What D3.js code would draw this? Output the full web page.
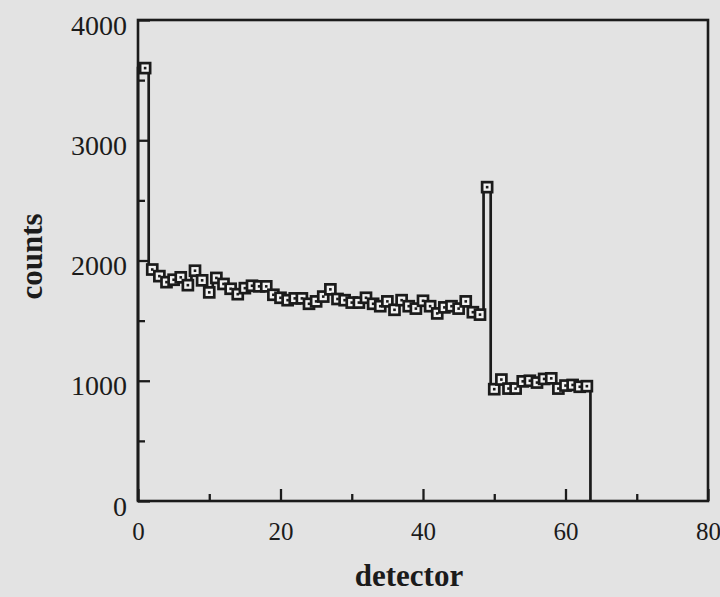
<!DOCTYPE html>
<html>
<head>
<meta charset="utf-8">
<script src="https://cdn.jsdelivr.net/npm/d3@7"></script>
<style>
  html, body { margin: 0; padding: 0; background: #e3e3e3; }
  svg { display: block; }
</style>
</head>
<body>
<svg id="chart" width="720" height="597"></svg>
<script>
// ---- data ----
const detectors = d3.range(1, 64);
const counts = [
  3600, 1925, 1870, 1820, 1840, 1860, 1795, 1915, 1835, 1735,
  1855, 1805, 1765, 1720, 1770, 1790, 1785, 1785, 1715, 1690,
  1670, 1685, 1685, 1640, 1660, 1700, 1760, 1680, 1670, 1650,
  1650, 1690, 1640, 1620, 1660, 1590, 1670, 1620, 1600, 1665,
  1620, 1560, 1610, 1620, 1600, 1660, 1570, 1550, 2610, 930,
  1010, 935, 935, 995, 1000, 985, 1015, 1020, 935, 960,
  965, 950, 955
];
const xTickValues = [0, 20, 40, 60, 80];
const xMinorTicks = [10, 30, 50, 70];
const yTickValues = [0, 1000, 2000, 3000, 4000];
const yMinorTicks = [500, 1500, 2500, 3500];
const xTitle = "detector";
const yTitle = "counts";

// ---- layout ----
const svg = d3.select("#chart");
const pLeft = 138, pRight = 708, pTop = 20, pBottom = 501;
const ink = "#1b1b1b";

const x = d3.scaleLinear().domain([0, 80]).range([pLeft, pRight]);
const y = d3.scaleLinear().domain([0, 4000]).range([pBottom, pTop]);

// frame
svg.append("rect")
  .attr("x", pLeft).attr("y", pTop)
  .attr("width", pRight - pLeft).attr("height", pBottom - pTop)
  .attr("fill", "none").attr("stroke", ink).attr("stroke-width", 2.6);

// x axis (ticks inward)
const xAxis = d3.axisBottom(x).tickValues(xTickValues).tickSize(-12).tickFormat(d3.format("d"));
const gx = svg.append("g").attr("transform", `translate(0,${pBottom})`).call(xAxis);
const gxm = svg.append("g").attr("transform", `translate(0,${pBottom})`)
  .call(d3.axisBottom(x).tickValues(xMinorTicks).tickSize(-7).tickFormat(""));

// y axis (ticks inward)
const yAxis = d3.axisLeft(y).tickValues(yTickValues).tickSize(-12).tickFormat(d3.format("d"));
const gy = svg.append("g").attr("transform", `translate(${pLeft},0)`).call(yAxis);
const gym = svg.append("g").attr("transform", `translate(${pLeft},0)`)
  .call(d3.axisLeft(y).tickValues(yMinorTicks).tickSize(-7).tickFormat(""));

[gx, gxm, gy, gym].forEach(g => {
  g.select(".domain").remove();
  g.selectAll(".tick line").attr("stroke", ink).attr("stroke-width", 2.3);
});
gx.selectAll(".tick text")
  .attr("font-family", "Liberation Serif, Times New Roman, serif")
  .attr("font-size", 25).attr("fill", ink).attr("dy", "1.45em");
gy.selectAll(".tick text")
  .attr("font-family", "Liberation Serif, Times New Roman, serif")
  .attr("font-size", 28).attr("fill", ink).attr("x", -11).attr("dy", "0.5em");

// step histogram line
const pts = [[0, 0]].concat(detectors.map((d, i) => [d + 0.5, counts[i]])).concat([[detectors[detectors.length - 1] + 0.5, 0]]);
const line = d3.line().x(d => x(d[0])).y(d => y(d[1])).curve(d3.curveStepBefore);
svg.append("path").datum(pts)
  .attr("d", line)
  .attr("fill", "none").attr("stroke", ink).attr("stroke-width", 2.7)
  .attr("stroke-linejoin", "miter");

// square markers
const mk = svg.append("g");
const s = 10;
mk.selectAll("rect.m").data(detectors).join("rect")
  .attr("class", "m")
  .attr("x", (d) => x(d) - s / 2).attr("y", (d, i) => y(counts[i]) - s / 2)
  .attr("width", s).attr("height", s)
  .attr("fill", "#f2f2f2").attr("stroke", ink).attr("stroke-width", 2.7);
mk.selectAll("rect.c").data(detectors).join("rect")
  .attr("class", "c")
  .attr("x", (d) => x(d) - 1.3).attr("y", (d, i) => y(counts[i]) - 1.3)
  .attr("width", 2.6).attr("height", 2.6)
  .attr("fill", ink);

// titles
svg.append("text")
  .attr("x", (pLeft + pRight) / 2 - 14).attr("y", 586)
  .attr("text-anchor", "middle")
  .attr("font-family", "Liberation Serif, Times New Roman, serif")
  .attr("font-weight", "bold").attr("font-size", 31).attr("fill", ink)
  .text(xTitle);
svg.append("text")
  .attr("transform", `translate(42,${(pTop + pBottom) / 2 - 4}) rotate(-90)`)
  .attr("text-anchor", "middle")
  .attr("font-family", "Liberation Serif, Times New Roman, serif")
  .attr("font-weight", "bold").attr("font-size", 31).attr("fill", ink)
  .text(yTitle);
</script>
</body>
</html>
